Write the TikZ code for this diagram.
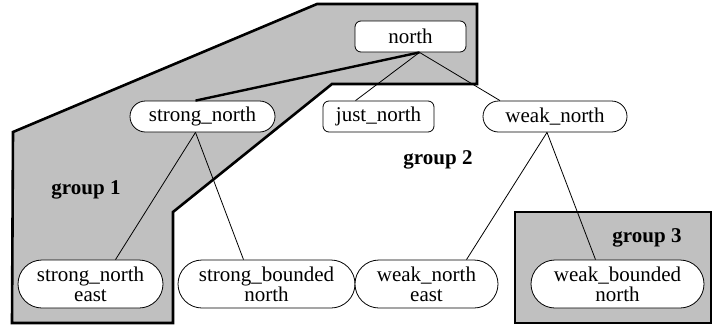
\documentclass[tikz,border=0pt]{standalone}
\usepackage{fontspec}
\setmainfont{Liberation Serif}
\definecolor{grp}{RGB}{192,192,192}
\begin{document}
\begin{tikzpicture}[x=1pt,y=-1pt,
  nodefont/.style={font=\fontsize{21}{20}\selectfont},
  stad/.style={draw,fill=white,line width=0.8pt,rounded corners=15.5pt,minimum height=31pt,inner sep=0pt,nodefont},
  stadtwo/.style={stad,rounded corners=24pt,minimum height=48pt,align=center},
  rbox/.style={draw,fill=white,line width=0.8pt,rounded corners=6pt,minimum height=31pt,inner sep=0pt,nodefont},
  grpbox/.style={draw,fill=grp,line width=2.6pt,line join=miter},
  lbl/.style={font=\fontsize{21}{22}\selectfont\bfseries,inner sep=0pt},
  conn/.style={line width=0.8pt},
  thickconn/.style={line width=2.4pt}]
\useasboundingbox (0,0) rectangle (714,327);
\fill[white] (0,0) rectangle (714,327);
% groups
\draw[grpbox] (13,132) -- (317,4) -- (477,4) -- (477,84) -- (332,84) -- (173,212) -- (173,323) -- (12,323) -- cycle;
\draw[grpbox] (515,212) rectangle (711,323);
% nodes
\node[rbox,minimum width=111pt] (north) at (410.5,36.5) {north};
\node[rbox,minimum width=111pt] (just) at (378.5,116.5) {just\_north};
\node[stad,minimum width=145pt] (sn) at (202.5,116.5) {strong\_north};
\node[stad,minimum width=144pt] (wn) at (555,116.5) {weak\_north};
\node[stadtwo,minimum width=145pt] (sne) at (90.5,284) {strong\_north\\east};
\node[stadtwo,minimum width=177pt] (sbn) at (266.5,284) {strong\_bounded\\north};
\node[stadtwo,minimum width=143pt] (wne) at (426.5,284) {weak\_north\\east};
\node[stadtwo,minimum width=173pt] (wbn) at (617.5,284) {weak\_bounded\\north};
% labels
\node[lbl] (g1) at (86,190) {group 1};
\node[lbl] (g2) at (438,160) {group 2};
\node[lbl] (g3) at (647,238) {group 3};
% connectors
\coordinate (nj) at ([xshift=9pt]north.south);
\coordinate (snj) at ([xshift=-7pt]sn.south);
\coordinate (wnj) at ([xshift=-8pt]wn.south);
\draw[thickconn] (nj) -- ([xshift=-7pt]sn.north);
\draw[conn] (nj) -- ([xshift=-23pt]just.north);
\draw[conn] (nj) -- ([xshift=-55pt]wn.north);
\draw[conn] (snj) -- ([xshift=25pt]sne.north);
\draw[conn] (snj) -- ([xshift=-23pt]sbn.north);
\draw[conn] (wnj) -- ([xshift=40pt]wne.north);
\draw[conn] (wnj) -- ([xshift=-22pt]wbn.north);
\end{tikzpicture}
\end{document}
